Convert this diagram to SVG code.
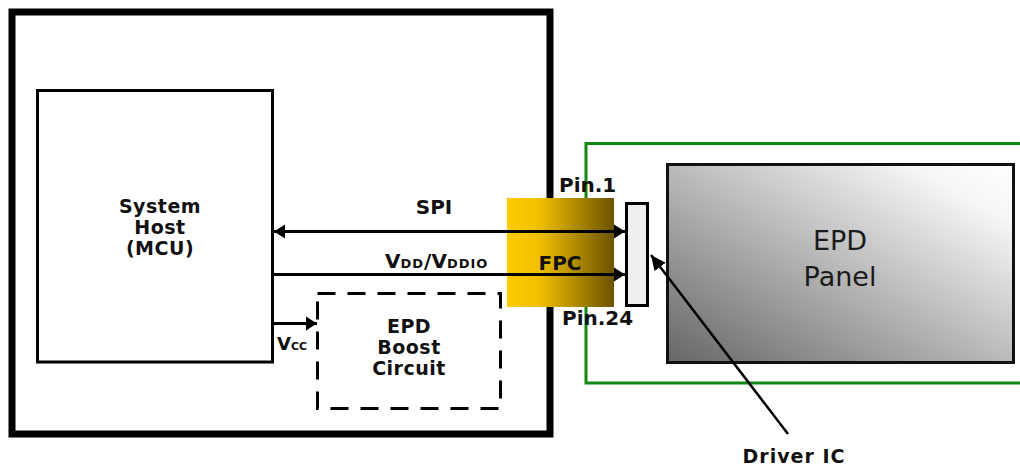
<svg xmlns="http://www.w3.org/2000/svg" width="1020" height="470" viewBox="0 0 1020 470">
  <style>
    .bold { font-family: "DejaVu Sans", Verdana, sans-serif; font-weight: bold; fill: #111; }
    .stack { font-family: "DejaVu Sans", Verdana, sans-serif; font-weight: bold; fill: #111; font-size: 19px; letter-spacing: 0.5px; text-anchor: middle; }
    .reg { font-family: "DejaVu Sans", Verdana, sans-serif; fill: #1a1a1a; }
    .wire { stroke: #000; stroke-width: 3; fill: none; }
    .box { stroke: #000; fill: #fff; }
  </style>
  <defs>
    <linearGradient id="gFpc" x1="0" y1="0" x2="1" y2="0">
      <stop offset="0" stop-color="#FFCC00"/>
      <stop offset="0.3" stop-color="#F0C000"/>
      <stop offset="1" stop-color="#6B5300"/>
    </linearGradient>
    <linearGradient id="gPanel" x1="0" y1="1" x2="1" y2="0">
      <stop offset="0" stop-color="#666666"/>
      <stop offset="0.85" stop-color="#f6f6f6"/>
      <stop offset="1" stop-color="#ffffff"/>
    </linearGradient>
    <marker id="arrow" markerUnits="userSpaceOnUse" markerWidth="12" markerHeight="15" refX="11" refY="7" orient="auto-start-reverse" viewBox="0 0 12 14">
      <path d="M0,0 L11,7 L0,14 z" fill="#000"/>
    </marker>
    <marker id="arrowBig" markerUnits="userSpaceOnUse" markerWidth="16" markerHeight="15" refX="15" refY="7" orient="auto" viewBox="0 0 16 14">
      <path d="M0,0 L15,7 L0,14 z" fill="#000"/>
    </marker>
  </defs>

  <g id="system-board">
    <rect x="12" y="12" width="538" height="422" fill="#fff" stroke="#000" stroke-width="7"/>
  </g>

  <g id="epd-module">
    <rect x="586" y="143.5" width="460" height="239.5" fill="none" stroke="#118811" stroke-width="3"/>
  </g>

  <g id="host">
    <rect class="box" x="37.5" y="90.5" width="235" height="271.5" stroke-width="3"/>
    <text class="stack" x="160" y="213">System</text>
    <text class="stack" x="160" y="234">Host</text>
    <text class="stack" x="160" y="255">(MCU)</text>
  </g>

  <g id="boost">
    <rect x="317.5" y="293.5" width="183" height="115" fill="#fff" stroke="#000" stroke-width="3" stroke-dasharray="18 12"/>
    <text class="stack" x="409" y="333">EPD</text>
    <text class="stack" x="409" y="354">Boost</text>
    <text class="stack" x="409" y="375">Circuit</text>
  </g>

  <g id="fpc">
    <rect x="507" y="198" width="107" height="109" fill="url(#gFpc)"/>
    <text class="bold" font-size="20" x="560" y="270" text-anchor="middle">FPC</text>
    <text class="bold" font-size="20" x="559" y="192">Pin.1</text>
    <text class="bold" font-size="20" x="562" y="325">Pin.24</text>
  </g>

  <g id="driver-ic">
    <rect x="626.5" y="203.5" width="21" height="102" fill="#efefef" stroke="#000" stroke-width="3"/>
  </g>

  <g id="panel">
    <rect x="667.5" y="164.5" width="346" height="198" fill="url(#gPanel)" stroke="#111" stroke-width="3"/>
    <text class="reg" font-size="27" x="840" y="250" text-anchor="middle">EPD</text>
    <text class="reg" font-size="27" x="840" y="286" text-anchor="middle">Panel</text>
  </g>

  <g id="connectors">
    <line class="wire" x1="274" y1="231.5" x2="625" y2="231.5" marker-start="url(#arrow)" marker-end="url(#arrow)"/>
    <line class="wire" x1="274" y1="274.5" x2="625" y2="274.5" marker-end="url(#arrow)"/>
    <line class="wire" x1="274" y1="323.5" x2="317" y2="323.5" marker-end="url(#arrow)"/>
    <line x1="788" y1="434" x2="651" y2="255" stroke="#000" stroke-width="2.5" marker-end="url(#arrowBig)"/>
  </g>

  <g id="labels">
    <text class="bold" font-size="20" x="434" y="214" text-anchor="middle">SPI</text>
    <text class="bold" font-size="20" x="385" y="268">V<tspan font-size="13" letter-spacing="1">DD</tspan>/V<tspan font-size="13" letter-spacing="1">DDIO</tspan></text>
    <text class="bold" font-size="18" x="277" y="350">V<tspan font-size="11">CC</tspan></text>
    <text class="bold" font-size="19" x="794" y="463" text-anchor="middle" letter-spacing="1">Driver IC</text>
  </g>
</svg>
